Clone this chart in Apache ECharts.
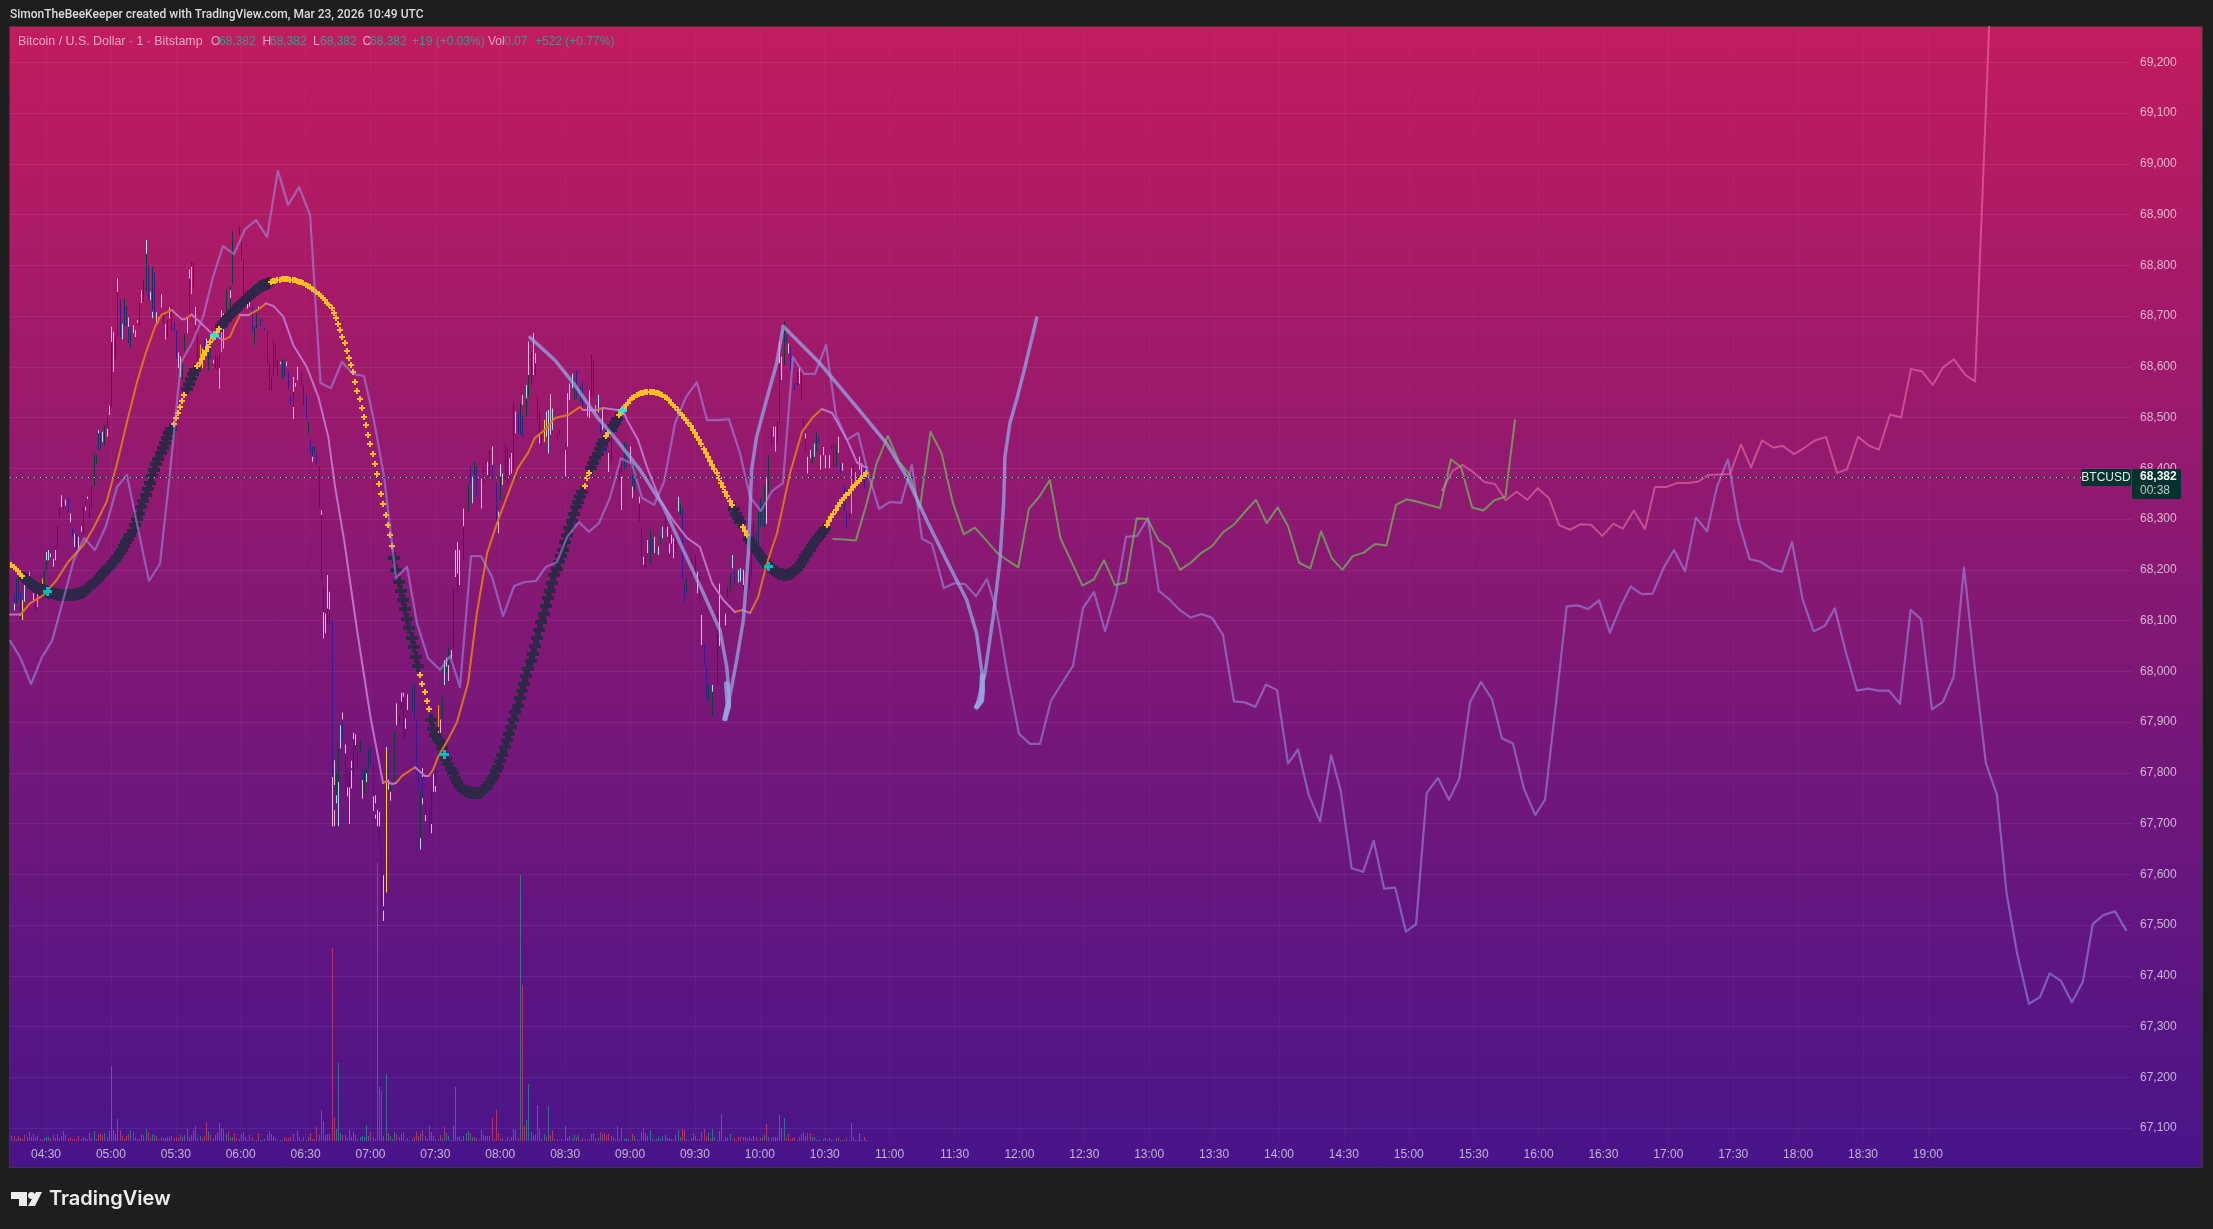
<!DOCTYPE html>
<html><head><meta charset="utf-8">
<style>html,body{margin:0;padding:0;background:#1e1e1e}#c{width:2213px;height:1229px}</style>
<script src="https://cdn.jsdelivr.net/npm/echarts@6/dist/echarts.min.js"></script>
</head><body><div id="c"></div>
<script>
// minutes since 00:00 are used for every time value
const timeTicks=[270,300,330,360,390,420,450,480,510,540,570,600,630,660,690,720,750,780,810,840,870,900,930,960,990,1020,1050,1080,1110,1140];
const priceTicks=[67100,67200,67300,67400,67500,67600,67700,67800,67900,68000,68100,68200,68300,68400,68500,68600,68700,68800,68900,69000,69100,69200];
const lastPrice=68382;

// long pale line [minute, price]
const lineA=[[253.4,68060],[258,68028],[263.1,67975],[268.1,68028],[272.8,68060],[277.6,68135],[282.8,68219],[287.6,68263],[292.6,68239],[297.7,68286],[302.8,68363],[307.4,68387],[312.5,68282],[317.6,68178],[322.7,68212],[327.3,68391],[332.4,68609],[337.5,68647],[342.6,68698],[347.2,68777],[351.8,68838],[356.9,68822],[362,68871],[367.1,68889],[372.2,68856],[377.2,68986],[381.9,68919],[387,68954],[392.1,68899],[396.9,68568],[401.7,68558],[406.8,68610],[411.9,68586],[417,68582],[421.6,68495],[426.3,68383],[431.8,68184],[436.9,68206],[441.5,68095],[446.6,68026],[452.1,68003],[456.8,68030],[461.4,67969],[466.5,68227],[471.1,68227],[476.2,68186],[481.3,68109],[486.4,68168],[491.4,68176],[496.5,68178],[501.1,68206],[506.2,68215],[510.9,68265],[516.4,68294],[521,68275],[525.6,68292],[530.7,68342],[535.8,68420],[540.9,68409],[545.5,68342],[551.1,68328],[555.7,68373],[560.8,68489],[565.9,68541],[570.9,68570],[575.6,68495],[580.6,68495],[585.7,68497],[590.8,68430],[595.5,68343],[600.5,68316],[605.6,68355],[610.7,68371],[615.3,68619],[620.4,68586],[625.5,68586],[630.6,68643],[635.2,68505],[640.3,68456],[645.4,68470],[650,68391],[655.1,68320],[660.2,68334],[665.3,68332],[670.3,68407],[675,68261],[679.6,68251],[685.1,68164],[690.2,68174],[694.8,68172],[700,68148],[705,68182],[709.6,68117],[714.7,67989],[719.8,67877],[724.9,67857],[729.5,67857],[734.6,67942],[739.7,67977],[744.8,68011],[749.4,68125],[754.5,68156],[759.6,68079],[764.7,68154],[769.3,68265],[774.4,68267],[779.4,68302],[784.4,68159],[789.3,68142],[794.3,68120],[799.2,68106],[804.3,68113],[809.2,68105],[814.1,68072],[819.2,67941],[824.2,67939],[829.1,67930],[834,67974],[839.1,67963],[844.2,67818],[848.8,67846],[853.8,67756],[859,67704],[864.1,67835],[868.5,67766],[873.6,67612],[878.9,67605],[883.8,67666],[888.6,67572],[893.7,67574],[898.7,67487],[903.4,67502],[908.3,67760],[913.5,67790],[918.6,67747],[923.4,67789],[928.3,67939],[933.4,67979],[938.5,67945],[943.1,67868],[948.2,67858],[953.3,67768],[958.5,67717],[963,67747],[968.1,67938],[973,68128],[978.1,68130],[983,68123],[988,68140],[993,68076],[998.1,68129],[1002.6,68167],[1007.7,68152],[1012.7,68153],[1018,68205],[1022.6,68239],[1027.7,68197],[1032.8,68303],[1037.9,68276],[1042.5,68364],[1047.6,68418],[1052.5,68294],[1057.6,68221],[1062.7,68216],[1067.6,68202],[1072.5,68196],[1077.2,68255],[1082.1,68142],[1087.2,68079],[1092.4,68090],[1097,68124],[1102.1,68037],[1107.2,67962],[1112.3,67966],[1117.1,67962],[1122,67962],[1127.1,67936],[1132,68121],[1136.8,68103],[1141.9,67925],[1147,67940],[1151.9,67989],[1156.7,68205],[1161.8,68002],[1166.8,67819],[1171.9,67757],[1176.4,67562],[1181.3,67443],[1186.7,67345],[1191.8,67358],[1196.3,67405],[1201.5,67390],[1206.6,67348],[1211.7,67389],[1216.2,67502],[1221.2,67520],[1226.5,67527],[1231.6,67490]];

const linePink=[[915.4,68357],[920.3,68395],[924.8,68407],[929.9,68392],[935,68373],[939.9,68369],[944.8,68337],[949.9,68354],[954.8,68338],[959.6,68361],[964.9,68341],[969.5,68288],[974.6,68279],[979.5,68290],[984.3,68289],[989.5,68267],[994.6,68291],[998.9,68281],[1004.1,68317],[1009.2,68280],[1013.8,68363],[1018.9,68363],[1024.2,68371],[1029.2,68371],[1033.9,68374],[1038.5,68387],[1048.5,68389],[1053.6,68447],[1058.2,68402],[1063.3,68455],[1068.4,68441],[1073,68444],[1078.1,68428],[1082.7,68440],[1087.8,68455],[1092.9,68462],[1098,68391],[1102.6,68398],[1107.7,68462],[1112.6,68445],[1117.4,68437],[1122.5,68506],[1127.6,68500],[1132.2,68596],[1137.3,68591],[1142.3,68564],[1147,68599],[1152,68615],[1157.1,68585],[1161.8,68571],[1168.6,69300]];

const lineGreen=[[633.9,68261],[639,68260],[644.4,68258],[649.4,68331],[654,68410],[659.2,68464],[664.3,68413],[669.4,68387],[674,68322],[678.9,68472],[684,68430],[689.1,68334],[694.3,68270],[699.4,68283],[704.5,68259],[709.4,68235],[714.4,68219],[719.5,68205],[724.4,68320],[729.2,68344],[734.1,68377],[739,68262],[744.1,68216],[749.2,68169],[754.4,68181],[759.1,68219],[764.2,68170],[769.2,68175],[774.2,68301],[779.3,68300],[784.4,68258],[789.3,68243],[794.3,68200],[799.2,68214],[804.3,68234],[809.2,68247],[814.1,68274],[819.2,68289],[824.2,68314],[829.4,68338],[834.3,68292],[839.4,68323],[844.2,68286],[849.3,68214],[854.5,68203],[859.5,68276],[864.4,68223],[869.3,68200],[874.1,68227],[879.2,68234],[884.4,68251],[889.7,68248],[894.1,68328],[899,68339],[904.1,68334],[909.2,68328],[914.5,68322],[919.5,68418],[924.2,68402],[929.3,68323],[934.5,68317],[939.6,68337],[944.7,68344],[949.1,68495]];

// thick drawn path
const lineThick=[[493.7,68658],[505.3,68613],[513.8,68568],[524.6,68502],[533.8,68456],[544.6,68397],[555.4,68325],[564.6,68239],[573.9,68154],[581.6,68081],[584.7,68009],[585.9,67950],[585.9,67930],[583.9,67907],[587,67970],[589.3,68022],[592.4,68101],[594.7,68233],[596.2,68397],[598.5,68462],[603.1,68535],[607.8,68607],[610.8,68680],[627.8,68607],[644.7,68521],[658.6,68449],[667.8,68384],[677.1,68298],[686.3,68219],[695.6,68141],[700.2,68075],[702.5,68003],[703.3,67963],[702.5,67943],[700.2,67930],[704.1,67996],[707.9,68108],[711,68219],[712.8,68338],[713.3,68423],[715.6,68489],[718.7,68535],[722.6,68600],[728,68696]];
const thickTips=[[584.7,67975],[585.4,67935],[583.9,67907],null,[702.9,67990],[702.5,67943],[700.2,67930]];

// moving average, rising and falling parts
const maOrange=[[258,68111],[262.6,68134],[268.8,68150],[274.9,68180],[280.3,68216],[287.3,68249],[291.9,68282],[298,68334],[302.7,68407],[307.3,68489],[311.9,68567],[316,68626],[320.4,68679],[323.5,68703],[328.1,68712],null,[334.2,68694],[337.3,68703],null,[352,68653],[355,68659],[357.4,68682],[359.7,68702],null,[363.5,68702],[368.2,68713],[371.7,68725],null,[425.8,67780],[427.6,67784],null,[431.8,67780],[434.6,67794],[440.6,67811],null,[447,67794],[448.9,67806],[451.2,67831],[455.8,67865],[460,67900],[465.1,67977],[469.2,68115],[473.9,68233],[479,68298],[483.1,68344],[488.2,68401],[492.8,68430],[496,68460],[500.7,68476],[505.3,68499],[511.3,68505],[516.9,68521],[518.3,68515],null,[524.7,68515],[527.5,68519],null,[534.4,68515],[536.7,68515],null,[588.5,68117],[591.8,68121],null,[595.5,68115],[599.2,68146],[603.3,68213],[608,68273],[614,68391],[619.5,68472],[624.6,68501],[628.7,68517]];
const maLilac=[[253.4,68112],[258,68112],null,[328.1,68712],[332.7,68694],[334.2,68694],null,[337.3,68703],[342.7,68682],[347.3,68663],[352,68653],null,[359.7,68702],[363.5,68702],null,[371.7,68725],[375.1,68720],[379.7,68699],[384.3,68643],[390.5,68600],[395.9,68541],[400.5,68462],[403.6,68364],[407.8,68259],[413.8,68081],[420,67910],[425.8,67780],null,[427.6,67784],[430,67778],[431.8,67780],null,[440.6,67811],[445.2,67794],[447,67794],null,[518.3,68515],[524.7,68515],null,[527.5,68519],[534.4,68515],null,[536.7,68515],[538.6,68495],[543.7,68456],[547.8,68403],[553.9,68338],[559.9,68298],[566.3,68263],[572.3,68245],[577.9,68174],[583,68141],[588.5,68117],null,[591.8,68121],[595.5,68115],null,[628.7,68517],[633.4,68509],[636.1,68489],[640.3,68456],[645,68411],[649.5,68401]];

// plus-marker study, one value a minute from curveStart
const curveStart=254;
const curve=[68210,68206,68202,68197,68192,68187,68183,68179,68175,68172,68170,68167,68165,68163,68161,68159,68158,68157,68155,68154,68153,68152,68151,68150,68150,68150,68150,68150,68151,68151,68152,68153,68155,68156,68159,68162,68166,68170,68174,68178,68182,68186,68191,68196,68201,68205,68210,68215,68220,68226,68233,68240,68247,68254,68261,68268,68277,68289,68300,68311,68323,68335,68347,68360,68372,68385,68397,68408,68419,68431,68441,68450,68460,68469,68478,68488,68499,68510,68521,68533,68545,68556,68567,68577,68585,68593,68601,68608,68616,68624,68632,68640,68648,68656,68662,68668,68674,68680,68686,68692,68698,68702,68706,68710,68714,68719,68723,68727,68731,68735,68740,68744,68748,68751,68754,68757,68760,68762,68764,68766,68768,68769,68770,68771,68772,68773,68773,68773,68773,68772,68771,68771,68769,68768,68767,68765,68762,68760,68757,68754,68751,68748,68744,68740,68735,68731,68726,68721,68715,68707,68697,68685,68672,68659,68646,68631,68617,68603,68589,68571,68553,68536,68519,68502,68485,68466,68447,68428,68409,68389,68369,68349,68329,68309,68288,68268,68247,68224,68200,68177,68158,68140,68122,68104,68085,68066,68047,68028,68011,67993,67976,67959,67942,67926,67905,67887,67875,67866,67860,67849,67837,67827,67817,67807,67799,67790,67782,67775,67771,67768,67765,67763,67761,67760,67760,67760,67761,67763,67766,67770,67773,67780,67787,67794,67803,67811,67823,67836,67850,67864,67877,67891,67905,67919,67932,67947,67961,67976,67991,68005,68020,68035,68050,68066,68081,68097,68113,68128,68144,68159,68174,68189,68202,68215,68228,68239,68254,68268,68282,68296,68310,68324,68334,68344,68353,68366,68380,68391,68401,68411,68420,68429,68438,68448,68456,68463,68469,68476,68483,68490,68498,68505,68512,68518,68524,68529,68534,68538,68541,68544,68546,68548,68549,68550,68550,68550,68550,68550,68549,68548,68546,68544,68541,68538,68534,68529,68525,68520,68515,68510,68505,68500,68496,68490,68483,68476,68469,68462,68455,68447,68438,68430,68422,68414,68406,68398,68390,68381,68372,68363,68354,68345,68336,68328,68320,68311,68303,68294,68285,68277,68268,68261,68255,68248,68242,68235,68229,68224,68218,68213,68207,68203,68200,68197,68195,68192,68191,68190,68190,68191,68192,68194,68198,68202,68208,68214,68220,68227,68234,68240,68246,68252,68258,68263,68269,68275,68280,68288,68296,68304,68311,68318,68325,68332,68337,68342,68347,68352,68358,68363,68367,68372,68376,68380,68385,68390];
// minutes during which the study is gold; dark otherwise
const goldRuns=[[254,259],[329,334],[340,350],[374,430],[443,447],[519,521],[529,530],[535,587],[592,594],[631,649]];
const signalTeal=[[270.9,68158],[454,67837],[604.2,68206]];
const signalAqua=[[348,68662],[536.3,68513]];

// 1-minute bar pieces [minute, low, high], by drawn colour
const wicksDark=[[256,68133,68183],[269,68166,68199],[270,68199,68219],[274,68235,68245],[275,68245,68286],[276,68301,68324],[278,68319,68337],[287,68271,68324],[288,68325,68337],[290,68302,68331],[291,68324,68365],[292,68363,68429],[293,68409,68426],[294,68436,68472],[297,68445,68485],[298,68462,68501],[300,68521,68649],[302,68616,68659],[303,68658,68748],[306,68680,68735],[309,68637,68679],[313,68682,68728],[315,68728,68772],[316,68748,68823],[319,68712,68797],[326,68658,68692],[333,68574,68606],[334,68631,68664],[336,68706,68774],[337,68797,68807],[345,68593,68646],[348,68597,68623],[350,68597,68626],[353,68708,68752],[355,68715,68759],[356,68764,68866],[359,68859,68876],[366,68643,68680],[367,68675,68706],[370,68690,68694],[374,68553,68580],[375,68582,68652],[377,68582,68613],[379,68575,68616],[384,68521,68551],[388,68564,68587],[391,68469,68491],[394,68429,68442],[400,68094,68124],[404,67756,67800],[405,67782,67848],[406,67848,67894],[409,67773,67805],[410,67771,67802],[412,67792,67866],[414,67807,67841],[415,67840,67864],[417,67759,67803],[418,67799,67809],[419,67809,67847],[426,67529,67537],[429,67763,67776],[431,67782,67882],[433,67897,67912],[434,67924,67940],[436,67867,67887],[439,67922,67971],[443,67671,67766],[447,67681,67730],[448,67699,67766],[450,67774,67809],[453,67907,67951],[455,67997,68009],[456,68012,68048],[458,68047,68165],[460,68157,68193],[463,68219,68286],[465,68316,68367],[468,68387,68413],[475,68384,68436],[480,68338,68384],[482,68377,68446],[483,68370,68440],[486,68397,68528],[489,68466,68528],[492,68502,68538],[493,68541,68584],[494,68564,68629],[499,68446,68469],[514,68535,68574],[517,68531,68561],[522,68541,68625],[531,68413,68466],[536,68384,68416],[537,68397,68453],[542,68357,68413],[549,68213,68279],[554,68252,68265],[556,68282,68328],[561,68236,68285],[563,68308,68331],[566,68154,68183],[576,67943,67973],[578,67911,67960],[580,67973,68114],[585,68144,68167],[586,68160,68193],[593,68167,68203],[595,68163,68223],[596,68186,68259],[597,68246,68292],[599,68246,68314],[600,68285,68341],[602,68285,68367],[604,68354,68426],[608,68449,68492],[609,68489,68607],[611,68603,68689],[617,68564,68590],[624,68410,68426],[626,68433,68472],[633,68438,68445],[635,68403,68446],[641,68298,68311]];
const wicksIndigo=[[255,68134,68153],[257,68140,68179],[258,68101,68156],[265,68120,68158],[280,68314,68342],[282,68265,68281],[284,68242,68271],[295,68436,68469],[304,68659,68733],[307,68682,68720],[308,68647,68679],[317,68731,68800],[320,68702,68785],[324,68685,68705],[328,68672,68720],[329,68671,68689],[330,68616,68672],[338,68754,68805],[339,68672,68712],[340,68614,68668],[343,68613,68652],[346,68616,68645],[349,68593,68620],[360,68810,68846],[361,68738,68811],[365,68669,68721],[369,68680,68695],[371,68671,68677],[372,68607,68669],[373,68554,68607],[376,68600,68646],[380,68580,68610],[382,68557,68590],[383,68524,68541],[389,68524,68564],[390,68495,68547],[392,68429,68455],[393,68423,68442],[395,68409,68429],[396,68324,68403],[397,68180,68308],[398,68114,68167],[401,68091,68122],[402,67792,68101],[407,67863,67905],[408,67759,67838],[413,67840,67855],[416,67786,67815],[420,67812,67851],[421,67753,67819],[424,67654,67695],[425,67539,67654],[428,67786,67838],[435,67871,67950],[440,67904,67976],[441,67797,67904],[442,67766,67802],[444,67750,67792],[445,67717,67740],[466,68370,68403],[469,68347,68403],[472,68370,68403],[476,68380,68407],[478,68292,68371],[488,68469,68512],[490,68462,68505],[496,68581,68607],[497,68495,68541],[498,68462,68512],[506,68453,68466],[507,68466,68476],[510,68436,68452],[515,68538,68594],[518,68518,68571],[523,68541,68614],[526,68469,68492],[529,68430,68482],[535,68370,68403],[538,68400,68449],[541,68357,68387],[544,68295,68331],[545,68223,68285],[547,68203,68229],[550,68233,68262],[558,68252,68280],[564,68183,68321],[565,68137,68173],[568,68187,68223],[570,68180,68229],[572,68137,68187],[574,68012,68055],[575,67943,68012],[588,68173,68200],[592,68160,68193],[598,68232,68278],[601,68285,68331],[605,68446,68475],[612,68646,68663],[614,68594,68640],[616,68554,68567],[619,68535,68597],[620,68472,68498],[621,68433,68472],[627,68449,68462],[634,68403,68449],[637,68390,68410],[639,68314,68367],[640,68282,68311],[643,68377,68407],[648,68360,68407]];
const wicksPink=[[264,68140,68158],[272,68225,68232],[273,68206,68222],[279,68327,68338],[281,68294,68311],[283,68245,68271],[285,68242,68265],[288,68317,68325],[296,68452,68472],[299,68505,68524],[300,68649,68679],[301,68590,68669],[308,68679,68697],[310,68666,68682],[311,68659,68672],[312,68687,68692],[314,68726,68751],[318,68731,68748],[321,68685,68708],[323,68717,68743],[325,68654,68685],[331,68597,68628],[332,68580,68621],[336,68774,68792],[337,68744,68797],[339,68682,68718],[344,68626,68656],[347,68607,68613],[350,68557,68597],[351,68692,68712],[352,68636,68705],[355,68735,68751],[363,68715,68741],[378,68605,68610],[381,68601,68610],[384,68551,68580],[384,68497,68521],[385,68561,68568],[386,68574,68600],[393,68413,68423],[397,68308,68317],[398,68065,68117],[399,68075,68114],[400,68124,68190],[401,68122,68157],[402,67695,67792],[403,67776,67825],[403,67695,67727],[407,67905,67919],[408,67838,67856],[411,67769,67805],[412,67866,67879],[413,67855,67876],[416,67749,67786],[421,67725,67754],[422,67740,67756],[422,67710,67718],[423,67695,67727],[424,67695,67723],[428,67767,67787],[429,67745,67763],[432,67894,67937],[434,67940,67958],[435,67950,67958],[444,67792,67809],[444,67738,67750],[445,67705,67717],[449,67779,67797],[452,67855,67905],[455,68009,68027],[456,67981,68012],[457,68025,68042],[459,68186,68239],[460,68193,68255],[461,68170,68239],[463,68286,68321],[467,68344,68383],[471,68321,68380],[476,68407,68443],[479,68272,68315],[481,68367,68390],[484,68387,68420],[485,68390,68430],[487,68469,68512],[490,68525,68545],[493,68584,68650],[495,68584,68667],[496,68607,68627],[498,68449,68465],[501,68462,68512],[503,68466,68546],[510,68384,68436],[527,68476,68521],[530,68393,68430],[540,68413,68443],[541,68341,68364],[544,68331,68344],[546,68210,68226],[551,68233,68265],[557,68265,68285],[558,68232,68252],[560,68223,68262],[571,68154,68196],[573,68052,68111],[584,68091,68114],[592,68170,68200],[603,68291,68380],[606,68462,68482],[607,68433,68482],[610,68574,68620],[613,68627,68646],[618,68567,68597],[621,68459,68469],[622,68390,68423],[623,68420,68436],[628,68397,68426],[629,68426,68442],[630,68400,68426],[632,68400,68426],[636,68430,68462],[638,68395,68410]];
const wicksBlue=[[255,68120,68133],[260,68137,68170],[270,68219,68235],[271,68219,68239],[274,68219,68239],[277,68324,68347],[286,68275,68286],[289,68340,68344],[294,68469,68475],[298,68462,68478],[303,68748,68774],[305,68654,68685],[316,68823,68850],[319,68696,68708],[364,68719,68738],[368,68713,68719],[404,67740,67756],[405,67695,67782],[406,67848,67894],[409,67754,67771],[410,67699,67771],[411,67809,67824],[418,67782,67799],[426,67537,67598],[426,67508,67529],[427,67841,67851],[436,67887,67907],[437,67924,67955],[443,67649,67671],[448,67681,67699],[449,67763,67797],[450,67763,67774],[454,67973,68022],[467,68331,68384],[474,68387,68413],[480,68384,68408],[492,68538,68564],[502,68429,68515],[504,68476,68518],[512,68535,68567],[513,68558,68587],[525,68510,68545],[536,68318,68384],[548,68233,68259],[553,68229,68246],[555,68262,68285],[559,68252,68269],[562,68315,68344],[578,67960,67973],[587,68203,68229],[590,68175,68200],[591,68177,68203],[609,68607,68650],[625,68423,68449],[646,68397,68423]];
const wicksOrange=[[262,68176,68196],[266,68127,68173],[268,68156,68183],[341,68606,68644],[351,68629,68692],[451,67851,67933],[524,68508,68525],[642,68311,68400],[644,68360,68393]];
const wicksGold=[[259,68101,68140],[322,68687,68698],[327,68695,68718],[335,68666,68698],[342,68597,68636],[362,68725,68741],[427,67564,67845],[500,68452,68495],[511,68443,68548],[520,68502,68522],[521,68499,68554],[581,68050,68173],[647,68383,68410]];

// volume by minute, positive on up bars and negative on down bars
const volumeStart=254;
const volumes=[-5,-5,2,-5,-3,2,-6,4,9,4,-7,-4,5,-2,-1,3,4,4,-3,6,3,7,3,5,10,-6,-3,-4,-2,-2,-2,-5,-2,4,3,2,8,3,10,2,-7,-8,-6,8,4,10,75,11,7,22,-11,-5,2,-5,-7,11,-9,-4,-2,-2,7,6,12,-9,-3,7,6,-5,2,4,3,3,4,4,-5,-3,-4,-3,-6,4,6,12,4,6,-11,-15,-3,5,-3,-5,-19,10,-6,-3,6,-9,18,13,12,7,-9,4,4,-8,-3,2,-7,-9,-4,1,-6,-4,1,1,-8,1,1,2,6,-10,7,5,3,1,1,1,-4,-3,-3,-4,7,1,11,-4,1,-4,-1,4,-8,-2,-2,-14,-6,-31,-20,-6,7,7,-193,-24,12,78,8,-6,-6,3,11,4,9,-6,2,4,5,4,16,5,-9,-4,-2,-278,-54,-50,5,67,-8,5,2,9,-7,4,-7,-9,1,3,-1,2,-4,-10,-5,8,-11,-5,2,16,9,-5,2,2,-6,3,-14,8,5,
1,15,54,4,5,1,5,8,10,-8,4,4,-3,1,11,-6,-5,5,5,-23,-2,-31,-8,2,-3,1,4,1,4,12,-11,-3,266,-156,-15,21,57,9,-6,-7,-36,-12,2,7,-4,35,-6,-11,2,-2,-1,-2,-1,-15,3,5,3,6,-4,6,1,-3,-2,1,2,7,-8,3,3,-9,7,-8,-6,-7,5,4,-2,-15,-2,13,2,3,2,-1,-7,5,-2,-1,-9,-13,8,5,11,2,1,2,4,2,5,6,-3,-3,-2,-2,6,11,4,-12,-11,2,1,3,8,-5,-2,-2,-9,-12,-5,8,-3,12,4,1,10,-27,1,4,3,7,-1,-3,-1,-4,-4,4,4,-3,4,2,5,-4,-1,3,-4,6,-17,4,3,4,4,4,26,13,23,-3,-7,-2,-3,-4,1,4,-7,-9,-5,-8,-8,4,4,1,1,1,-2,-3,1,-3,1,1,3,-4,1,1,1,-3,1,18,-4,1,1,8,1,-4,1];

const headerName='Bitcoin / U.S. Dollar · 1 · Bitstamp';
const ohlcValue='68,382';
const changeText='+19 (+0.03%)';
const volText='0.07';
const volChangeText='+522 (+0.77%)';

const FONT='"Liberation Sans",Arial,sans-serif';
const isGold=t=>goldRuns.some(r=>t>=r[0]&&t<=r[1]);
const curvePts=curve.map((p,i)=>[curveStart+i,p]);
const curveDark=curvePts.filter(d=>!isGold(d[0]));
const curveGold=curvePts.filter(d=>isGold(d[0]));
const volUp=[],volDown=[];
volumes.forEach((v,i)=>{(v>0?volUp:volDown).push([volumeStart+i,0,Math.abs(v)]);});

function renderBar(params,api){
  const p=api.coord([api.value(0),api.value(1)]);
  const top=api.coord([api.value(0),api.value(2)])[1];
  return {type:'rect',shape:{x:Math.round(p[0]),y:top,width:1,height:Math.max(1,p[1]-top)},style:{fill:api.visual('color')},silent:true};
}
const renderPlus=(size,arm)=>function(params,api){
  const p=api.coord([api.value(0),api.value(1)]);
  const x0=Math.round(p[0]-size/2),y0=Math.round(p[1]-size/2),off=(size-arm)/2;
  const fill=api.visual('color');
  return {type:'group',children:[
    {type:'rect',shape:{x:x0,y:y0+off,width:size,height:arm},style:{fill}},
    {type:'rect',shape:{x:x0+off,y:y0,width:arm,height:size},style:{fill}}]};
};
const wickSeries=(data,color)=>({type:'custom',renderItem:renderBar,data,encode:{x:0,y:[1,2]},itemStyle:{color},z:3,silent:true});
const volSeries=(data,color)=>({type:'custom',renderItem:renderBar,data,yAxisIndex:1,encode:{x:0,y:[1,2]},itemStyle:{color},z:2,silent:true});
const lineSeries=(data,color,width,z)=>({type:'line',data,showSymbol:false,symbol:'none',connectNulls:false,clip:true,lineStyle:{color,width,cap:'round',join:'round'},z:z||6,silent:true});
const marks=(data,color,size,arm,z)=>({type:'custom',renderItem:renderPlus(size,arm),data,encode:{x:0,y:1},itemStyle:{color},z,silent:true,clip:true});
const nullify=a=>a.map(p=>p===null?[null,null]:p);

const t0=253.35,t1=1233.9;
const chart=echarts.init(document.getElementById('c'),null,{renderer:'canvas',width:2213,height:1229});
chart.setOption({
  animation:false,
  backgroundColor:'#1e1e1e',
  grid:{left:10,right:82,top:27,bottom:88,containLabel:false},
  xAxis:{type:'value',min:t0,max:t1,
    axisLine:{show:false},axisTick:{show:false,customValues:timeTicks},
    axisLabel:{customValues:timeTicks,margin:8,color:'rgba(255,255,255,0.66)',fontFamily:FONT,fontSize:12,
      formatter:v=>String(Math.floor(v/60)).padStart(2,'0')+':'+String(v%60).padStart(2,'0')},
    splitLine:{show:true,lineStyle:{color:'rgba(255,255,255,0.03)',width:1}}},
  yAxis:[{type:'value',min:67074.6,max:69269.6,position:'right',
    axisLine:{show:false},axisTick:{show:false,customValues:priceTicks},
    axisLabel:{customValues:priceTicks,margin:9,color:'rgba(255,255,255,0.66)',fontFamily:FONT,fontSize:12,
      formatter:v=>v.toLocaleString('en-US')},
    splitLine:{show:true,lineStyle:{color:'rgba(255,255,255,0.07)',width:1}}},
   {type:'value',min:0,max:1114,show:false,splitLine:{show:false}}],
  series:[
    volSeries(volUp,'rgba(38,166,154,0.62)'),
    volSeries(volDown,'rgba(239,70,90,0.62)'),
    wickSeries(wicksIndigo,'#3a1a92'),
    wickSeries(wicksDark,'#0e3c3c'),
    wickSeries(wicksPink,'#f4b4dc'),
    wickSeries(wicksBlue,'#a9def0'),
    wickSeries(wicksOrange,'#ff9d12'),
    wickSeries(wicksGold,'#ffd21c'),
    marks(curveDark,'#2e2748',12,4,4),
    marks(curveGold,'#ffbf1c',6,2,5),
    lineSeries(nullify(maOrange),'#d8741f',2,6),
    lineSeries(nullify(maLilac),'#c070c8',2,6),
    lineSeries(lineA,'rgba(160,150,235,0.55)',2.2,7),
    lineSeries(linePink,'rgba(238,110,170,0.62)',2,7),
    lineSeries(lineGreen,'rgba(110,190,90,0.72)',2,7),
    marks(signalTeal,'#00bac4',9,3,8),
    marks(signalAqua,'#30e6d2',9,3,8),
    lineSeries(lineThick,'rgba(150,170,232,0.72)',3.5,9),
    lineSeries(nullify(thickTips),'rgba(150,170,232,0.8)',5.5,9),
    {type:'line',data:[[t0,lastPrice],[1210.8,lastPrice]],symbol:'none',silent:true,lineStyle:{color:'#0d3b3a',width:1,type:[3,3]},z:10},
    {type:'line',data:[[t0,lastPrice],[1210.8,lastPrice]],symbol:'none',silent:true,lineStyle:{color:'rgba(255,255,255,0.8)',width:1,type:[1,5]},z:10}
  ],
  graphic:{elements:[
    {type:'rect',z:-5,shape:{x:9.5,y:26.5,width:2193,height:1141},silent:true,
      style:{stroke:'#3a3a3a',lineWidth:1,fill:new echarts.graphic.LinearGradient(0,0,0,1,[{offset:0,color:'#c21c5e'},{offset:1,color:'#48148a'}])}},
    {type:'text',z:50,x:10,y:15,style:{text:'SimonTheBeeKeeper created with TradingView.com, Mar 23, 2026 10:49 UTC',font:'500 12px Roboto,'+FONT,fill:'#dcdcdc',verticalAlign:'middle'}},
    {type:'text',z:50,x:18,y:42,style:{text:headerName,font:'12.4px '+FONT,fill:'rgba(255,255,255,0.6)',verticalAlign:'middle'}},
    ...[['O',211,219],['H',262.5,270],['L',313,320],['C',362.5,370]].flatMap(a=>[
      {type:'text',z:50,x:a[1],y:42,style:{text:a[0],font:'12px '+FONT,fill:'rgba(255,255,255,0.6)',verticalAlign:'middle'}},
      {type:'text',z:50,x:a[2],y:42,style:{text:ohlcValue,font:'12px '+FONT,fill:'#2f9c92',verticalAlign:'middle'}}]),
    {type:'text',z:50,x:412,y:42,style:{text:changeText,font:'12px '+FONT,fill:'#2f9c92',verticalAlign:'middle'}},
    {type:'text',z:50,x:488,y:42,style:{text:'Vol',font:'12px '+FONT,fill:'rgba(255,255,255,0.6)',verticalAlign:'middle'}},
    {type:'text',z:50,x:504,y:42,style:{text:volText,font:'12px '+FONT,fill:'#2f9c92',verticalAlign:'middle'}},
    {type:'text',z:50,x:535,y:42,style:{text:volChangeText,font:'12px '+FONT,fill:'#2f9c92',verticalAlign:'middle'}},
    {type:'rect',z:50,shape:{x:2081,y:469,width:50,height:17,r:2},style:{fill:'#04322f'}},
    {type:'text',z:51,x:2106,y:477.5,style:{text:'BTCUSD',font:'12px '+FONT,fill:'#e6efec',align:'center',verticalAlign:'middle'}},
    {type:'rect',z:50,shape:{x:2132,y:469,width:49,height:30,r:2},style:{fill:'#04322f'}},
    {type:'text',z:51,x:2140,y:477,style:{text:'68,382',font:'bold 12px '+FONT,fill:'#f2f6f4',verticalAlign:'middle'}},
    {type:'text',z:51,x:2140,y:491,style:{text:'00:38',font:'12px '+FONT,fill:'#b9c9c6',verticalAlign:'middle'}},
    {type:'polygon',z:50,shape:{points:[[11,1192],[27,1192],[27,1206],[19,1206],[19,1199],[11,1199]]},style:{fill:'#ececec'}},
    {type:'circle',z:50,shape:{cx:31.5,cy:1195.5,r:3.5},style:{fill:'#ececec'}},
    {type:'polygon',z:50,shape:{points:[[36,1192],[42,1192],[35,1206],[28,1206]]},style:{fill:'#ececec'}},
    {type:'text',z:50,x:49,y:1199,style:{text:'TradingView',font:'600 20px Inter,'+FONT,fill:'#ececec',verticalAlign:'middle'}}
  ]}
});
</script></body></html>
